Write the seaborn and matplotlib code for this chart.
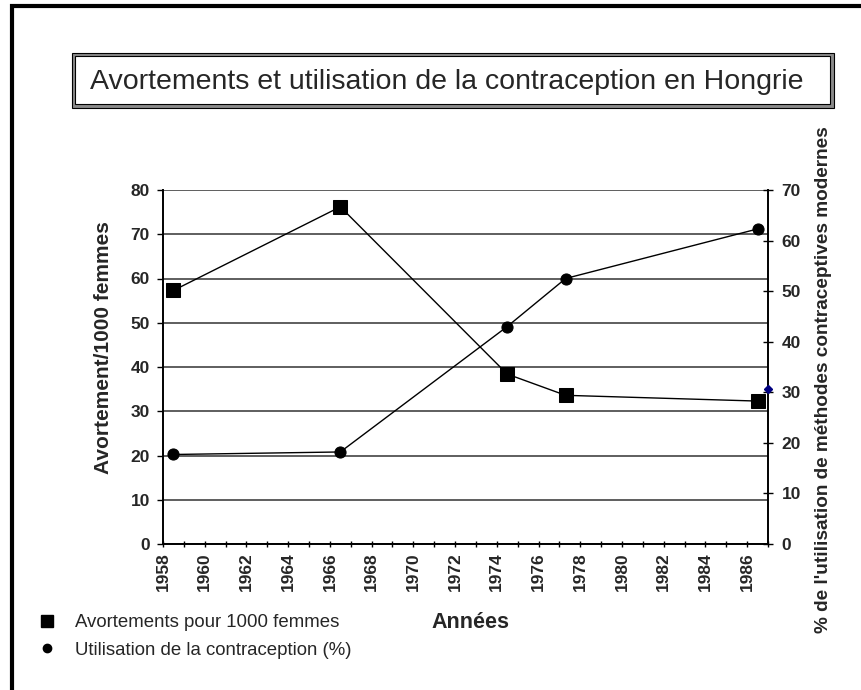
import numpy as np
import pandas as pd
import matplotlib
matplotlib.use("Agg")
import matplotlib.pyplot as plt
from matplotlib.patches import Rectangle
from matplotlib.lines import Line2D
import seaborn as sns

# ── Data ──────────────────────────────────────────────────────────────────────
ABORT_YEARS = [1958.5, 1966.5, 1974.5, 1977.3, 1986.5]
ABORT_RATE = [57.3, 76.2, 38.4, 33.6, 32.3]

CONTRA_YEARS = [1958.5, 1966.5, 1974.5, 1977.3, 1986.5]
CONTRA_PCT = [17.7, 18.2, 43.0, 52.5, 62.3]

MARKER_Y = 30.6   # stray navy marker on the right axis

X_TICKS = list(range(1958, 1987, 2))
LEFT_TICKS = list(range(0, 81, 10))
RIGHT_TICKS = list(range(0, 71, 10))

FONT = ["Liberation Sans", "DejaVu Sans"]

sns.set_theme(style="white")
plt.rcParams["font.family"] = FONT

W, H = 862, 690
fig = plt.figure(figsize=(W / 100, H / 100), dpi=100)

# ── Frame and title box ───────────────────────────────────────────────────────
fig.add_artist(Line2D([12 / W, 12 / W, 1.0], [0.0, 1 - 6 / H, 1 - 6 / H],
                      color="black", lw=3.0, transform=fig.transFigure,
                      solid_joinstyle="miter"))

bx0, bx1, by0, by1 = 72, 834, 53, 108
fig.add_artist(Rectangle((bx0 / W, 1 - by1 / H), (bx1 - bx0) / W, (by1 - by0) / H,
                         transform=fig.transFigure, facecolor="#8a8a8a",
                         edgecolor="black", lw=0.8))
fig.add_artist(Rectangle(((bx0 + 3) / W, 1 - (by1 - 4) / H), (bx1 - bx0 - 7) / W,
                         (by1 - by0 - 7) / H, transform=fig.transFigure,
                         facecolor="white", edgecolor="black", lw=0.8))
fig.text((bx0 + 18) / W, 1 - 82 / H,
         "Avortements et utilisation de la contraception en Hongrie",
         fontsize=20.5, va="center", ha="left")

# ── Axes ──────────────────────────────────────────────────────────────────────
left, right, top, bottom = 163, 768, 190, 544
ax = fig.add_axes([left / W, 1 - bottom / H, (right - left) / W, (bottom - top) / H])
ax2 = ax.twinx()

df_a = pd.DataFrame({"year": ABORT_YEARS, "rate": ABORT_RATE})
df_c = pd.DataFrame({"year": CONTRA_YEARS, "pct": CONTRA_PCT})

sns.lineplot(data=df_a, x="year", y="rate", ax=ax, color="black", lw=1.0,
             marker="s", markersize=10.5, markeredgecolor="black", zorder=5)
sns.lineplot(data=df_c, x="year", y="pct", ax=ax2, color="black", lw=1.0,
             marker="o", markersize=8, markeredgecolor="black", zorder=5)
ax2.plot([1987], [MARKER_Y], marker="D", markersize=4, color="navy",
         clip_on=False, zorder=6)

ax.set_xlim(1958, 1987)
ax.set_ylim(0, 80)
ax2.set_ylim(0, 70)

ax.set_xticks(X_TICKS)
ax.set_xticks(range(1958, 1988), minor=True)
ax.set_yticks(LEFT_TICKS)
ax2.set_yticks(RIGHT_TICKS)

ax.grid(axis="y", color="#333333", lw=1.1)
ax.set_axisbelow(True)
ax.grid(axis="x", visible=False)
ax2.grid(False)

for a in (ax, ax2):
    for s in a.spines.values():
        s.set_visible(False)
ax.spines["left"].set_visible(True)
ax.spines["bottom"].set_visible(True)
ax2.spines["right"].set_visible(True)
for s in (ax.spines["left"], ax.spines["bottom"], ax2.spines["right"]):
    s.set_color("black")
    s.set_linewidth(1.4)

ax.tick_params(axis="x", which="both", direction="inout", length=4.5, width=1,
               color="black", bottom=True)
ax.tick_params(axis="x", which="major", labelsize=12.5, labelrotation=90, pad=4)
ax.tick_params(axis="y", direction="out", length=4.5, width=1, color="black",
               left=True, labelsize=12.5, pad=5)
ax2.tick_params(axis="y", direction="inout", length=7.5, width=1, color="black",
                right=True, labelsize=12.5, pad=6)
for lab in ax.get_xticklabels() + ax.get_yticklabels() + ax2.get_yticklabels():
    lab.set_fontweight("bold")

ax.set_xlabel("")
ax.set_ylabel("Avortement/1000 femmes", fontsize=15, fontweight="bold")
ax.yaxis.set_label_coords(-0.083, 0.556)
ax2.set_ylabel("% de l'utilisation de méthodes contraceptives modernes",
               fontsize=13.7, fontweight="bold", rotation=90)
ax2.yaxis.set_label_coords(1.078, 0.463)

fig.text(470 / W, 1 - 622 / H, "Années", fontsize=15.5, fontweight="bold",
         ha="center", va="center")

# ── Legend ────────────────────────────────────────────────────────────────────
handles = [
    Line2D([], [], ls="none", marker="s", markersize=8, color="black"),
    Line2D([], [], ls="none", marker="o", markersize=6, color="black"),
]
fig.legend(handles, ["Avortements pour 1000 femmes",
                     "Utilisation de la contraception (%)"],
           loc="upper left", bbox_to_anchor=(28 / W, 1 - 605 / H),
           frameon=False, fontsize=13.4, handletextpad=1.0, labelspacing=0.55,
           handlelength=1.0, borderpad=0)

fig.savefig("out.png", dpi=100)
